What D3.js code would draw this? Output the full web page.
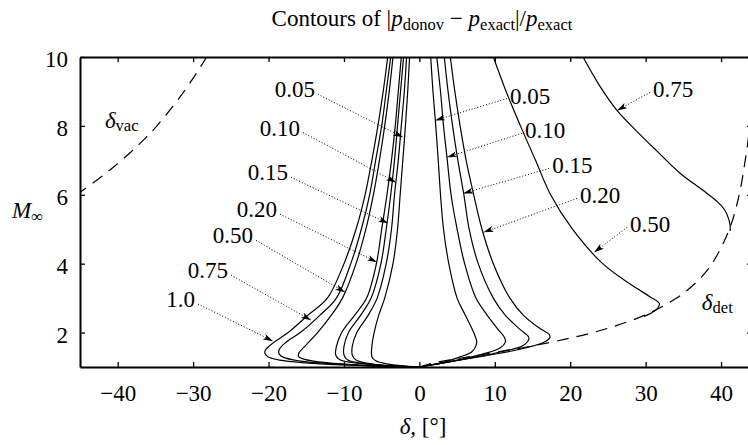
<!DOCTYPE html>
<html><head><meta charset="utf-8">
<script src="https://cdn.jsdelivr.net/npm/d3@7"></script>
<style>
html,body{margin:0;padding:0;overflow:hidden;background:#fff;}
svg{display:block;}
text{font-family:"Liberation Serif","Times New Roman",serif;fill:#000;}
</style></head><body>
<svg id="c" width="748" height="445"></svg>
<script>
// ---- axis data ----
const xDomain = [-45, 44.1];
const yDomain = [1, 10];
const xTicks = [-40, -30, -20, -10, 0, 10, 20, 30, 40];
const yTicks = [2, 4, 6, 8, 10];

// ---- contours on the negative-deflection side: [delta, Mach] ----
const neg005 = [[-1.3,10],[-1.55,9],[-1.85,8],[-2.2,7],[-2.55,6],[-2.9,5],[-3.5,4],[-4.6,3],[-5.4,2.5],[-6.0,2.0],[-6.3,1.6],[-6.3,1.3],[-5.8,1.18],[-4.5,1.1],[-2.5,1.04],[0,1]];
const neg010 = [[-1.7,10],[-2.0,9],[-2.4,8],[-2.8,7],[-3.3,6],[-3.7,5],[-4.4,4],[-5.6,3],[-6.8,2.5],[-8.3,2.0],[-8.9,1.6],[-8.9,1.35],[-8.4,1.2],[-7,1.11],[-4,1.04],[0,1]];
const neg015 = [[-2.1,10],[-2.5,9],[-2.9,8],[-3.3,7],[-3.8,6],[-4.4,5],[-5.1,4],[-6.4,3],[-7.8,2.5],[-9.4,2.0],[-10.0,1.6],[-10.0,1.35],[-9.5,1.2],[-8,1.12],[-5,1.05],[0,1]];
const neg020 = [[-2.4,10],[-2.8,9],[-3.2,8],[-3.7,7],[-4.3,6],[-5.0,5],[-5.7,4],[-7.0,3],[-8.6,2.5],[-10.3,2.0],[-11.0,1.6],[-11.1,1.35],[-10.6,1.22],[-9,1.13],[-6,1.06],[-3,1.02],[0,1]];
const neg050 = [[-3.5,10],[-4.0,9],[-4.6,8],[-5.3,7],[-6.1,6],[-7.1,5],[-8.4,4],[-10.2,3],[-11.7,2.5],[-13.5,2.0],[-15.2,1.6],[-16.0,1.4],[-16.0,1.3],[-15.2,1.22],[-13,1.14],[-9,1.07],[-4,1.02],[0,1]];
const neg075 = [[-3.8,10],[-4.4,9],[-5.0,8],[-5.8,7],[-6.6,6],[-7.7,5],[-9.1,4],[-11.0,3],[-13.2,2.5],[-15.8,2.0],[-17.8,1.7],[-18.6,1.5],[-18.6,1.38],[-18.0,1.28],[-16,1.18],[-12,1.1],[-7,1.04],[0,1]];
const neg100 = [[-4.2,10],[-4.8,9],[-5.5,8],[-6.3,7],[-7.2,6],[-8.4,5],[-10.0,4],[-12.2,3],[-14.8,2.5],[-17.4,2.0],[-19.4,1.7],[-20.4,1.5],[-20.5,1.4],[-20.1,1.3],[-18.5,1.2],[-15,1.12],[-10,1.06],[-5,1.02],[0,1]];

// ---- contours on the positive-deflection side ----
const pos005 = [[1.5,10],[1.8,9],[2.1,8.2],[2.5,7],[2.8,6],[3.2,5],[3.9,4],[5.0,3],[6.1,2.5],[7.2,2.0],[7.6,1.75],[7.5,1.62],[7.0,1.45],[5.5,1.3],[3,1.13],[0,1]];
const pos010 = [[2.3,10],[2.8,9],[3.2,8],[3.7,7],[4.2,6],[5.0,5],[6.0,4],[7.5,3],[9.0,2.5],[10.4,2.1],[11.3,1.85],[11.4,1.72],[10.7,1.55],[8.5,1.38],[5,1.2],[0,1]];
const pos015 = [[3.3,10],[3.8,9],[4.4,8],[5.1,7],[5.9,6],[6.6,5],[7.8,4],[9.8,3],[11.4,2.5],[13.3,2.1],[14.4,1.9],[14.5,1.8],[13.7,1.62],[11,1.45],[7,1.27],[0,1]];
const pos020 = [[4.1,10],[4.7,9],[5.4,8],[6.2,7],[7.2,6],[8.3,5],[9.8,4],[12.0,3],[13.8,2.5],[16.1,2.1],[17.2,1.95],[17.3,1.85],[16.5,1.72],[13,1.5],[8,1.3],[0,1]];
const pos050 = [[9.8,10],[11.5,9],[13.4,8],[15.4,7],[17.4,6],[20.3,5],[24.3,4],[28.0,3.4],[30.5,3.05],[31.8,2.85],[31.6,2.7],[30.6,2.55],[29.8,2.47]];
const pos075 = [[21.7,10],[23.8,9.2],[26.2,8.45],[28.8,7.85],[31.4,7.29],[34.6,6.62],[37.6,6.13],[39.5,5.8],[40.5,5.55],[41.0,5.3],[41.2,5.1],[41.2,4.95]];

// ---- limiting angles (dashed) ----
const vacuumLimit = [[-45.5,6],[-42.3,6.5],[-39.5,7],[-37.0,7.5],[-34.8,8],[-31.2,9],[-28.2,10]];
const detachLimit = [[0,1],[1.5,1.1],[3.9,1.2],[6.7,1.3],[9.4,1.4],[12.1,1.5],[14.7,1.6],[19.2,1.8],[23.0,2.0],[26.1,2.2],[29.8,2.5],[34.1,3.0],[36.9,3.5],[38.8,4.0],[41.1,5.0],[42.4,6.0],[43.2,7.0],[43.8,8.0],[44.4,10.0]];

// ---- level labels ----
const negLevels = ["0.05","0.10","0.15","0.20","0.50","0.75","1.0"];
const negLabelAt = [[-13.85,8.83],[-15.82,7.72],[-17.42,6.42],[-18.88,5.35],[-22.06,4.59],[-25.37,3.58],[-29.75,2.74]];
const negArrowTip = [[-2.16,7.67],[-3.09,6.36],[-4.15,5.17],[-5.61,4.04],[-9.85,3.17],[-14.36,2.36],[-19.40,1.75]];
const posLevels = ["0.05","0.10","0.15","0.20","0.50","0.75"];
const posLabelAt = [[12.02,8.65],[14.01,7.64],[17.60,6.62],[21.31,5.75],[27.94,4.91],[30.99,8.83]];
const posArrowTip = [[2.08,8.16],[3.67,7.09],[5.80,6.04],[8.50,4.91],[23.17,4.33],[26.22,8.45]];
const vacLabelAt = [-41.7, 7.93];
const detLabelAt = [37.45, 2.65];

// ---- drawing ----
const FS = 23;
const svg = d3.select("#c");
const x = d3.scaleLinear().domain(xDomain).range([80, 752]);
const y = d3.scaleLinear().domain(yDomain).range([367, 57]);

const defs = svg.append("defs");
defs.append("clipPath").attr("id","plot").append("rect")
  .attr("x", x(xDomain[0])).attr("y", y(yDomain[1]))
  .attr("width", x(xDomain[1]) - x(xDomain[0])).attr("height", y(yDomain[0]) - y(yDomain[1]));
defs.append("marker").attr("id","ah").attr("viewBox","0 0 10 6").attr("refX",10).attr("refY",3)
  .attr("markerWidth",10).attr("markerHeight",6).attr("markerUnits","userSpaceOnUse").attr("orient","auto")
  .append("path").attr("d","M0,0 L10,3 L0,6 L2.5,3 Z").attr("fill","#000");

const line = d3.line().x(d => x(d[0])).y(d => y(d[1])).curve(d3.curveCatmullRom.alpha(0.5));
const plot = svg.append("g").attr("clip-path","url(#plot)");

[neg005,neg010,neg015,neg020,neg050,neg075,neg100,pos005,pos010,pos015,pos020,pos050,pos075].forEach(c => {
  plot.append("path").attr("d", line(c)).attr("fill","none").attr("stroke","#000").attr("stroke-width",1.2);
});
[vacuumLimit, detachLimit].forEach(c => {
  plot.append("path").attr("d", line(c)).attr("fill","none").attr("stroke","#000")
    .attr("stroke-width",1.2).attr("stroke-dasharray","12,8");
});

// axes
function styleAxis(g){
  g.select(".domain").attr("stroke-width",2);
  g.selectAll(".tick line").attr("stroke-width",1.3);
  g.selectAll(".tick text").attr("font-size",FS).attr("font-family","Liberation Serif, serif");
}
svg.append("g").attr("transform",`translate(0,${y(1)})`)
  .call(d3.axisBottom(x).tickValues(xTicks).tickSize(-5).tickSizeOuter(0).tickPadding(18)).call(styleAxis);
svg.append("g").attr("transform",`translate(0,${y(10)})`)
  .call(d3.axisTop(x).tickValues(xTicks).tickSize(-5).tickSizeOuter(0).tickFormat(() => "")).call(styleAxis);
const gl = svg.append("g").attr("transform",`translate(${x(xDomain[0])},0)`)
  .call(d3.axisLeft(y).tickValues(yTicks).tickSize(-5).tickSizeOuter(0).tickPadding(12)).call(styleAxis);
gl.selectAll(".tick text").attr("dy","0.42em");
svg.append("g").attr("transform",`translate(${x(xDomain[1])},0)`)
  .call(d3.axisRight(y).tickValues(yTicks).tickSize(-5).tickSizeOuter(0).tickFormat(() => "")).call(styleAxis);

// level labels + dotted arrows
const ann = svg.append("g");
negLevels.forEach((t,i) => {
  const px = x(negLabelAt[i][0]), py = y(negLabelAt[i][1]);
  ann.append("text").attr("x",px).attr("y",py).attr("text-anchor","end").attr("font-size",FS).text(t);
  ann.append("line").attr("x1",px+3).attr("y1",py-3)
    .attr("x2",x(negArrowTip[i][0])).attr("y2",y(negArrowTip[i][1]))
    .attr("stroke","#000").attr("stroke-width",1).attr("stroke-dasharray","1,2").attr("marker-end","url(#ah)");
});
posLevels.forEach((t,i) => {
  const px = x(posLabelAt[i][0]), py = y(posLabelAt[i][1]);
  ann.append("text").attr("x",px).attr("y",py).attr("text-anchor","start").attr("font-size",FS).text(t);
  ann.append("line").attr("x1",px-3).attr("y1",py-5)
    .attr("x2",x(posArrowTip[i][0])).attr("y2",y(posArrowTip[i][1]))
    .attr("stroke","#000").attr("stroke-width",1).attr("stroke-dasharray","1,2").attr("marker-end","url(#ah)");
});

// limit labels
function deltaLabel(at, sub){
  const t = ann.append("text").attr("x",x(at[0])).attr("y",y(at[1])).attr("font-size",FS);
  t.append("tspan").attr("font-style","italic").text("δ");
  t.append("tspan").attr("font-size",FS*0.72).attr("dy",3).text(sub);
}
deltaLabel(vacLabelAt,"vac");
deltaLabel(detLabelAt,"det");

// axis titles
const xt = svg.append("text").attr("x",423).attr("y",434).attr("text-anchor","middle").attr("font-size",FS);
xt.append("tspan").attr("font-style","italic").text("δ");
xt.append("tspan").text(", [°]");
const yt = svg.append("text").attr("x",12).attr("y",218).attr("font-size",FS);
yt.append("tspan").attr("font-style","italic").text("M");
yt.append("tspan").attr("font-size",FS*0.72).attr("dy",4).text("∞");

// title
const tt = svg.append("text").attr("x",422).attr("y",26).attr("text-anchor","middle").attr("font-size",FS);
const sub = FS*0.72;
tt.append("tspan").text("Contours of |");
tt.append("tspan").attr("font-style","italic").text("p");
tt.append("tspan").attr("font-size",sub).attr("dy",4).text("donov");
tt.append("tspan").attr("dy",-4).text(" − ");
tt.append("tspan").attr("font-style","italic").text("p");
tt.append("tspan").attr("font-size",sub).attr("dy",4).text("exact");
tt.append("tspan").attr("dy",-4).text("|/");
tt.append("tspan").attr("font-style","italic").text("p");
tt.append("tspan").attr("font-size",sub).attr("dy",4).text("exact");
</script>
</body></html>
